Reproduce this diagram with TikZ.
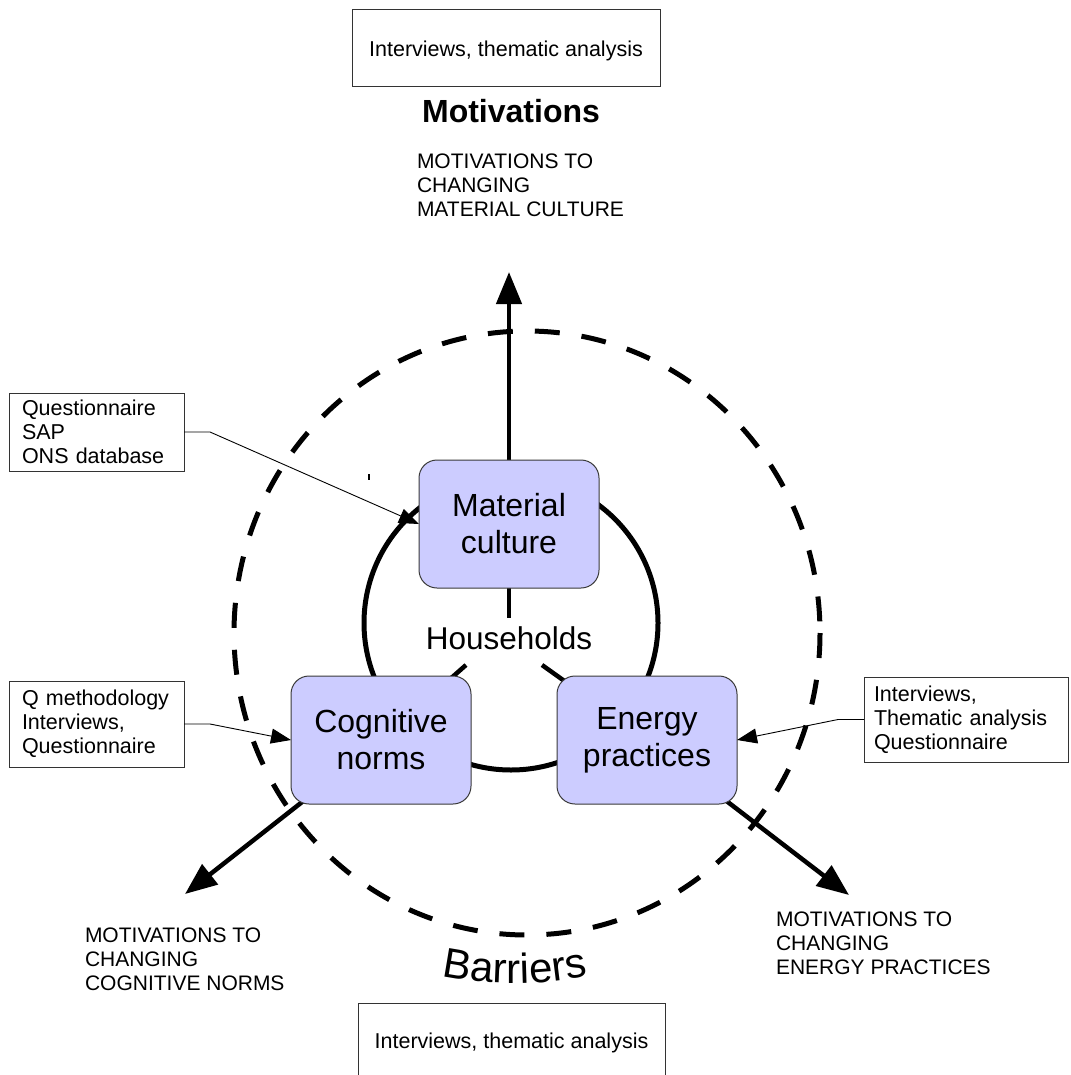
\documentclass[tikz,border=0pt]{standalone}
\usepackage{fontspec}
\setmainfont{Liberation Sans}
\usetikzlibrary{arrows.meta,decorations.text}
\definecolor{hubfill}{HTML}{CCCCFF}
\definecolor{hubedge}{HTML}{3A3A3A}

\begin{document}
\begin{tikzpicture}[x=1pt,y=-1pt,
  every node/.style={inner sep=0pt, outer sep=0pt},
  hub/.style={draw=hubedge, line width=1pt, fill=hubfill, rounded corners=18pt,
    minimum width=180pt, minimum height=128pt, align=center,
    font=\fontsize{32}{37}\selectfont},
  methodbox/.style={draw=black!80, line width=0.9pt, fill=white,
    font=\fontsize{21.5}{24}\selectfont},
  srcbox/.style={methodbox, align=left, inner xsep=13pt, text width=149pt, minimum width=175pt},
  caption/.style={anchor=north west, align=left, font=\fontsize{21}{24}\selectfont},
  ring/.style={line width=5pt},
  dashring/.style={line width=5pt, dash pattern=on 25pt off 22pt},
  spoke/.style={line width=4.5pt},
  outflow/.style={line width=4.5pt, -{Triangle[length=32pt,width=25pt]}},
  source/.style={line width=0.9pt, -{Triangle[length=20pt,width=15pt]}}
]
\clip (0,0) rectangle (1070,1075);
\fill[white] (0,0) rectangle (1070,1075);

% outer dashed boundary and household ring
\draw[dashring] (527,633) ellipse [x radius=293, y radius=302];
\draw[ring] (511,623) circle [radius=147];

% free ends of the spokes and outward arrows
\coordinate (hhN)  at (509,618);
\coordinate (hhSW) at (466,665);
\coordinate (hhSE) at (542,665);
\coordinate (upTip) at (509,272);
\coordinate (cnTip) at (185,894);
\coordinate (enTip) at (849,895);

% the three domains
\path (509,524) coordinate (mcC);
\path (381,740) coordinate (cnC);
\path (647,740) coordinate (enC);

% spokes towards the household centre (boxes sit on top)
\draw[spoke] (mcC) -- (hhN);
\draw[spoke] (cnC) -- (hhSW);
\draw[spoke] (enC) -- (hhSE);

% outward arrows
\draw[outflow] (mcC) -- (upTip);
\draw[outflow] (cnC) -- (cnTip);
\draw[outflow] (enC) -- (enTip);

\node[hub] (mc) at (mcC) {Material\\culture};
\node[hub] (cn) at (cnC) {Cognitive\\norms};
\node[hub] (en) at (enC) {Energy\\practices};

\node[font=\fontsize{31.5}{31.5}\selectfont] (hh) at (509,638) {Households};

% headings and method boxes
\node[methodbox, minimum width=308pt, minimum height=77pt, text height=21pt, text depth=2pt] (mtop) at (506,47.5) {Interviews, thematic analysis};
\node[font=\bfseries\fontsize{32}{32}\selectfont] (mot) at (511,111) {Motivations};
\node[methodbox, minimum width=307pt, minimum height=75pt, text height=18pt, text depth=3pt] (mbot) at (511.5,1040.5) {Interviews, thematic analysis};

\path[decorate, decoration={text along path, text align=center,
  text={|\fontsize{42}{42}\selectfont|Barriers}}]
  (438,975) .. controls (488,986) and (540,986) .. (592,975);

% captions of the outward arrows
\node[caption] (lmc) at (417,154) {MOTIVATIONS TO\\CHANGING\\MATERIAL CULTURE};
\node[caption] (lcn) at (85,928) {MOTIVATIONS TO\\CHANGING\\COGNITIVE NORMS};
\node[caption] (len) at (776,912) {MOTIVATIONS TO\\CHANGING\\ENERGY PRACTICES};

% data sources
\node[srcbox, minimum height=78pt] (q1) at (96.5,432) {Questionnaire\\SAP\\ONS database};
\node[srcbox, minimum height=86pt] (q2) at (96.5,724) {Q methodology\\Interviews,\\Questionnaire};
\node[methodbox, align=left, inner xsep=10pt, text width=184pt, minimum width=204pt, minimum height=85pt] (q3) at (966,719.5) {Interviews,\\Thematic analysis\\Questionnaire};

\draw[source] (q1.east) -- ++(26,0) -- (mc.west);
\draw[source] (q2.east) -- ++(26,0) -- (cn.west);
\draw[source] (q3.west) -- ++(-26,0) -- (en.east);

% small stray tick
\draw[line width=1.2pt] (369,474) -- (369,480);
\end{tikzpicture}
\end{document}
